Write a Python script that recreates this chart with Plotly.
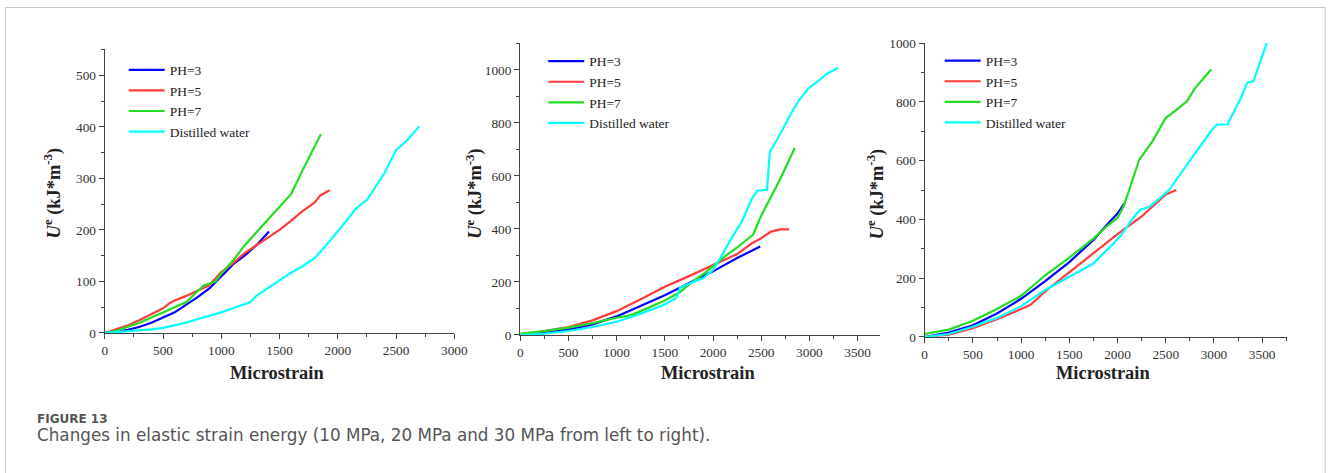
import plotly.graph_objects as go

W, H = 1339, 482
# The page is photographed with a small affine offset/scale; positions given
# below are the wanted picture pixels and get mapped to layout pixels.
SX, AX0 = 0.9886, 2.1
SY, AY0 = 0.966, 7.0

series_names = ["PH=3", "PH=5", "PH=7", "Distilled water"]
series_colors = ["#0000FF", "#FF3B3B", "#22DD22", "#00FFFF"]

# ---- Panel 1 (10 MPa) ----
p1_ph3_x = [0, 100, 200, 300, 400, 500, 600, 700, 800, 900, 1000, 1100, 1200, 1300, 1410]
p1_ph3_y = [0, 2, 6, 12, 20, 30, 40, 55, 70, 87, 110, 133, 150, 170, 197]
p1_ph5_x = [0, 100, 200, 300, 400, 500, 550, 600, 700, 800, 900, 1000, 1100, 1200, 1300, 1400, 1500, 1600, 1700, 1800, 1850, 1930]
p1_ph5_y = [0, 7, 15, 25, 37, 48, 57, 63, 72, 83, 93, 118, 135, 155, 170, 185, 200, 218, 237, 253, 267, 277]
p1_ph7_x = [0, 100, 200, 300, 400, 500, 600, 700, 800, 850, 950, 1000, 1100, 1200, 1300, 1400, 1500, 1600, 1700, 1800, 1855]
p1_ph7_y = [0, 4, 12, 20, 30, 40, 50, 60, 82, 92, 100, 115, 140, 170, 195, 220, 243, 270, 317, 360, 386]
p1_dw_x = [0, 200, 400, 500, 600, 700, 800, 900, 1000, 1100, 1200, 1250, 1300, 1400, 1500, 1600, 1700, 1800, 1900, 2000, 2100, 2150, 2200, 2250, 2300, 2400, 2500, 2600, 2700]
p1_dw_y = [0, 3, 7, 10, 15, 20, 27, 33, 40, 48, 55, 60, 72, 87, 103, 117, 130, 145, 170, 197, 225, 240, 250, 258, 275, 310, 355, 375, 401]

# ---- Panel 2 (20 MPa) ----
p2_ph3_x = [0, 250, 500, 750, 1000, 1250, 1500, 1750, 2000, 2250, 2490]
p2_ph3_y = [0, 8, 20, 40, 70, 110, 150, 195, 240, 290, 334]
p2_ph5_x = [0, 250, 500, 750, 1000, 1250, 1500, 1750, 2000, 2250, 2400, 2500, 2600, 2700, 2790]
p2_ph5_y = [0, 15, 30, 55, 90, 135, 182, 222, 262, 305, 345, 365, 390, 398, 398]
p2_ph7_x = [0, 250, 500, 750, 1000, 1150, 1250, 1500, 1650, 1750, 1900, 2000, 2100, 2250, 2415, 2500, 2600, 2700, 2848]
p2_ph7_y = [5, 15, 28, 45, 65, 75, 90, 130, 160, 190, 230, 260, 290, 330, 378, 450, 520, 590, 705]
p2_dw_x = [0, 250, 500, 750, 1000, 1250, 1500, 1620, 1660, 1800, 1900, 2000, 2070, 2200, 2300, 2400, 2460, 2560, 2590, 2700, 2800, 2900, 2990, 3100, 3180, 3300]
p2_dw_y = [0, 5, 15, 30, 50, 80, 115, 140, 180, 200, 215, 245, 286, 370, 428, 512, 544, 548, 690, 760, 830, 890, 930, 960, 985, 1008]

# ---- Panel 3 (30 MPa) ----
p3_ph3_x = [0, 250, 500, 750, 1000, 1250, 1500, 1750, 1900, 2000, 2070]
p3_ph3_y = [0, 15, 40, 80, 130, 190, 255, 330, 385, 420, 454]
p3_ph5_x = [0, 250, 500, 750, 1000, 1100, 1250, 1500, 1750, 2000, 2250, 2400, 2500, 2610]
p3_ph5_y = [0, 8, 30, 60, 95, 110, 155, 220, 285, 350, 410, 455, 485, 500]
p3_ph7_x = [0, 250, 500, 750, 1000, 1250, 1500, 1750, 1900, 2000, 2070, 2155, 2225, 2360, 2500, 2600, 2720, 2800, 2880, 2970]
p3_ph7_y = [10, 25, 55, 95, 140, 210, 270, 335, 380, 405, 450, 534, 603, 665, 745, 770, 802, 845, 877, 910]
p3_dw_x = [0, 250, 500, 750, 1000, 1250, 1500, 1750, 1850, 1950, 2050, 2150, 2230, 2330, 2430, 2535, 2750, 2980, 3030, 3140, 3280, 3345, 3410, 3550]
p3_dw_y = [0, 10, 35, 65, 105, 160, 205, 250, 283, 315, 352, 400, 432, 443, 470, 500, 600, 705, 723, 723, 814, 865, 871, 1002]

panels = [
    [(p1_ph3_x, p1_ph3_y), (p1_ph5_x, p1_ph5_y), (p1_ph7_x, p1_ph7_y), (p1_dw_x, p1_dw_y)],
    [(p2_ph3_x, p2_ph3_y), (p2_ph5_x, p2_ph5_y), (p2_ph7_x, p2_ph7_y), (p2_dw_x, p2_dw_y)],
    [(p3_ph3_x, p3_ph3_y), (p3_ph5_x, p3_ph5_y), (p3_ph7_x, p3_ph7_y), (p3_dw_x, p3_dw_y)],
]

x_ranges = [[0, 3000], [0, 3730], [0, 3760]]
y_ranges = [[0, 551], [0, 1101], [0, 1000]]
y_dticks = [100, 200, 200]
y_minor = [50, 100, 100]

# wanted picture pixels: (left, right, top, bottom)
boxes = [(104, 454, 49, 332), (520, 880, 43, 334), (925, 1288, 43, 336)]
legend_pos = [(123, 54.5), (543, 45.8), (940, 45.3)]
ytitle_pos = [(52, 192), (474, 193), (876, 193)]
xtitle_pos = [(276, 372), (708, 372), (1104, 372)]


def px(x):
    return ((x - AX0) / SX) / W


def py(y):
    return 1 - ((y - AY0) / SY) / H


SERIF = "Liberation Serif, Times New Roman, serif"
AXC = "#444444"

fig = go.Figure()
for i, pdata in enumerate(panels):
    sfx = "" if i == 0 else str(i + 1)
    leg = "legend" if i == 0 else f"legend{i + 1}"
    for j, (xs, ys) in enumerate(pdata):
        fig.add_trace(go.Scatter(
            x=xs, y=ys, mode="lines", name=series_names[j],
            line=dict(color=series_colors[j], width=2.2),
            xaxis=f"x{sfx}", yaxis=f"y{sfx}", legend=leg, showlegend=True,
        ))

layout = dict(
    width=W, height=H, autosize=False, margin=dict(l=0, r=0, t=0, b=0, pad=0),
    paper_bgcolor="white", plot_bgcolor="white",
    font=dict(family=SERIF, color="#333333", size=13),
    annotations=[], shapes=[],
)

for i in range(3):
    sfx = "" if i == 0 else str(i + 1)
    l, r, t, b = boxes[i]
    layout[f"xaxis{sfx}"] = dict(
        domain=[px(l), px(r)], range=x_ranges[i], anchor=f"y{sfx}",
        showgrid=False, zeroline=False, showline=True, linecolor=AXC, linewidth=1.3,
        ticks="outside", ticklen=5, tickwidth=1, tickcolor=AXC, dtick=500, tick0=0,
        minor=dict(ticks="outside", ticklen=3, dtick=250, tickcolor=AXC, showgrid=False),
        tickfont=dict(family=SERIF, size=13.3, color="#333333"),
    )
    layout[f"yaxis{sfx}"] = dict(
        domain=[py(b), py(t)], range=y_ranges[i], anchor=f"x{sfx}",
        showgrid=False, zeroline=False, showline=True, linecolor=AXC, linewidth=1.3,
        ticks="outside", ticklen=5, tickwidth=1, tickcolor=AXC, dtick=y_dticks[i], tick0=0,
        minor=dict(ticks="outside", ticklen=3, dtick=y_minor[i], tickcolor=AXC, showgrid=False),
        tickfont=dict(family=SERIF, size=13.3, color="#333333"),
    )
    leg = "legend" if i == 0 else f"legend{i + 1}"
    lx, ly = legend_pos[i]
    layout[leg] = dict(
        x=px(lx), y=py(ly), xanchor="left", yanchor="top",
        bgcolor="rgba(0,0,0,0)", borderwidth=0,
        font=dict(family=SERIF, size=13.5, color="#222222"),
        tracegroupgap=0, itemwidth=36,
    )
    tx, ty = ytitle_pos[i]
    layout["annotations"].append(dict(
        x=px(tx), y=py(ty), xref="paper", yref="paper", showarrow=False,
        xanchor="center", yanchor="middle",
        text="<b><i>U</i><sup>e</sup> (kJ*m<sup>-3</sup>)</b>", textangle=-90,
        font=dict(family=SERIF, size=18.4, color="#222222"),
    ))
    mx, my = xtitle_pos[i]
    layout["annotations"].append(dict(
        x=px(mx), y=py(my), xref="paper", yref="paper", showarrow=False,
        xanchor="center", yanchor="middle",
        text="<b>Microstrain</b>", font=dict(family=SERIF, size=18.4, color="#222222"),
    ))

# caption
layout["annotations"].append(dict(
    x=px(34), y=py(418), xref="paper", yref="paper", showarrow=False,
    xanchor="left", yanchor="middle", text="<b>FIGURE 13</b>",
    font=dict(family="DejaVu Sans, sans-serif", size=12, color="#555555"),
))
layout["annotations"].append(dict(
    x=px(34), y=py(434), xref="paper", yref="paper", showarrow=False,
    xanchor="left", yanchor="middle",
    text="Changes in elastic strain energy (10 MPa, 20 MPa and 30 MPa from left to right).",
    font=dict(family="DejaVu Sans, sans-serif", size=16.8, color="#555555"),
))
# figure frame
layout["shapes"].append(dict(
    type="rect", xref="paper", yref="paper",
    x0=px(4.5), x1=px(1326), y0=-0.1, y1=py(7.5),
    line=dict(color="#C8C8C8", width=1), fillcolor="rgba(0,0,0,0)", layer="below",
))

fig.update_layout(**layout)
fig.write_html("out.html")
